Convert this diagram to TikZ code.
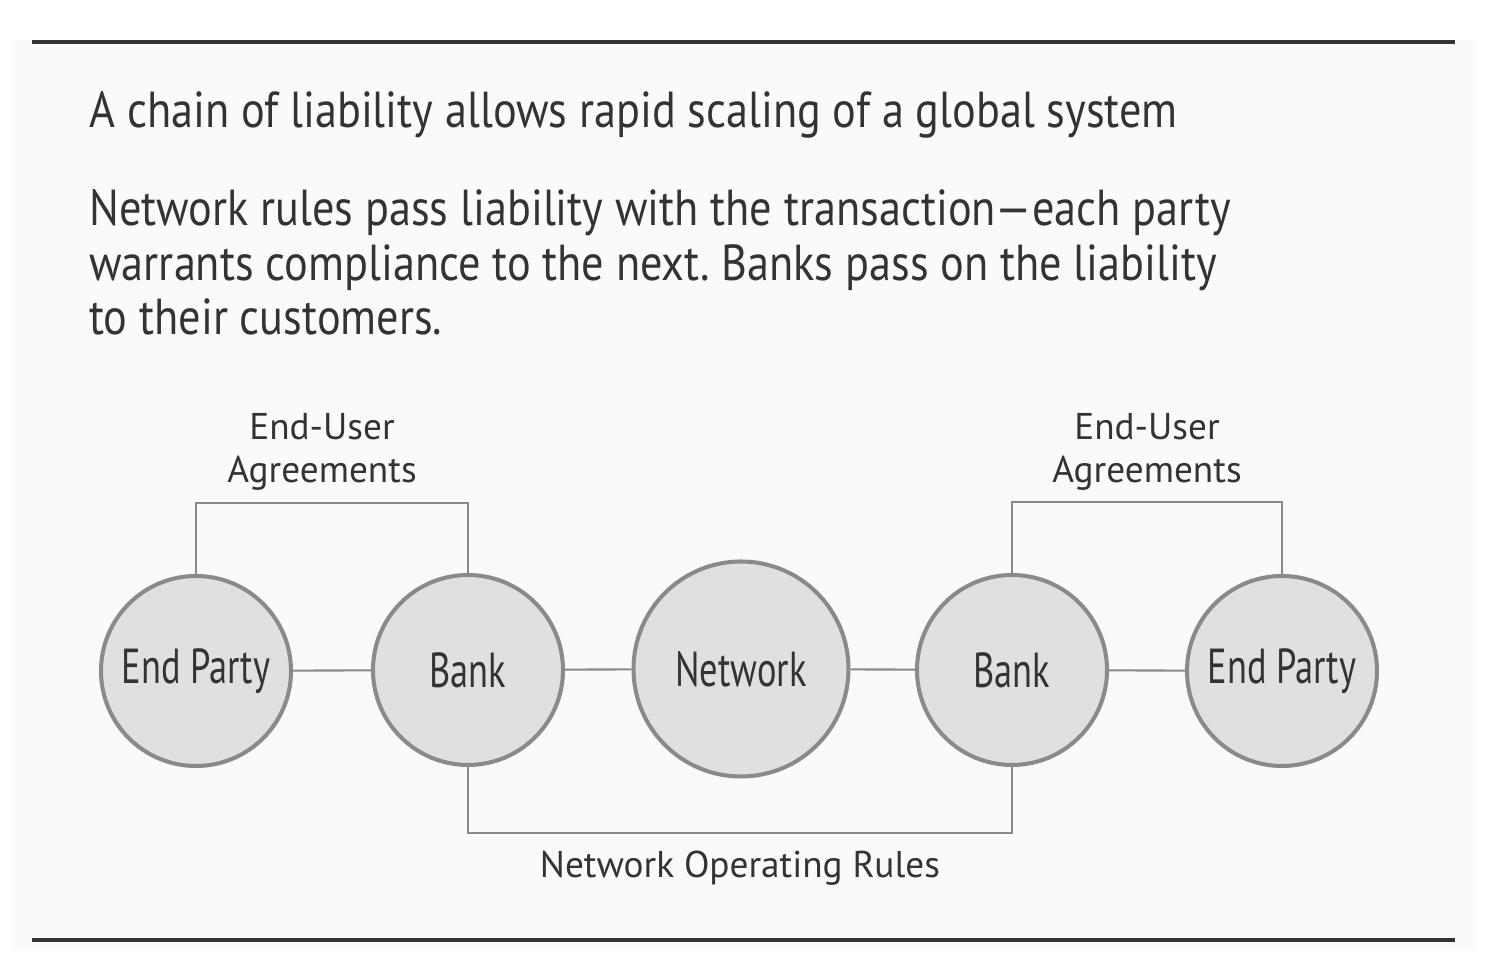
\documentclass[tikz,border=0pt]{standalone}
\usepackage{fontspec}
\setmainfont{PT Sans}
\newfontfamily\headfont[Ligatures=TeX, FakeStretch=0.875]{PT Sans}
\newfontfamily\condfont[Ligatures=TeX, FakeStretch=0.74]{PT Sans}
\definecolor{ringgray}{HTML}{8A8A8A}
\definecolor{discfill}{HTML}{DFE0E1}
\definecolor{inkgray}{HTML}{333333}
\frenchspacing
\begin{document}
\begin{tikzpicture}[thick,
    party/.style={draw=ringgray, circle, line width=1.15pt, fill=discfill, minimum size=1.9cm, inner sep=0pt, font=\condfont\fontsize{14}{17}\selectfont, text=inkgray},
    link/.style={draw=ringgray, line width=0.6pt},
    caption/.style={align=center, text=inkgray, font=\fontsize{10.6}{12.3}\selectfont}]
    \useasboundingbox (0,0) rectangle (14.86,-9.74);
    \fill[white!98!black] (0.12,-0.40) rectangle (14.75,-9.50);
    \draw[inkgray, line width=0.9pt] (0.32,-0.42) -- (14.55,-0.42);
    \draw[inkgray, line width=0.9pt] (0.32,-9.40) -- (14.55,-9.40);

    \node[anchor=base west, text=inkgray, font=\headfont\fontsize{14.4}{17}\selectfont, inner sep=0pt] at (0.88,-1.28) (T) {A chain of liability allows rapid scaling of a global system};
    \node[anchor=base west, text=inkgray, align=left, font=\headfont\fontsize{14.4}{15.6}\selectfont, inner sep=0pt] at (0.88,-3.35) (P) {Network rules pass liability with the transaction---each party\\warrants compliance to the next. Banks pass on the liability\\to their customers.};

    \node[party] at (1.96,-6.71)  (E1) {End Party};
    \node[party] at (4.68,-6.70)  (B1) {Bank};
    \node[party, minimum size=2.15cm] at (7.41,-6.69) (N) {Network};
    \node[party] at (10.12,-6.70) (B2) {Bank};
    \node[party] at (12.82,-6.71) (E2) {End Party};

    \draw[link] (E1) -- (B1);
    \draw[link] (B1) -- (N);
    \draw[link] (N) -- (B2);
    \draw[link] (B2) -- (E2);

    \draw[link] (E1.north) -- ++(0,0.71) -| (B1.north);
    \draw[link] (B2.north) -- ++(0,0.71) -| (E2.north);
    \draw[link] (B1.south) -- ++(0,-0.66) -| (B2.south);

    \node[caption] at (3.22,-4.52) (A1) {End-User\\Agreements};
    \node[caption] at (11.47,-4.52) (A2) {End-User\\Agreements};
    \node[caption] at (7.40,-8.68) (R) {Network Operating Rules};
\end{tikzpicture}
\end{document}
